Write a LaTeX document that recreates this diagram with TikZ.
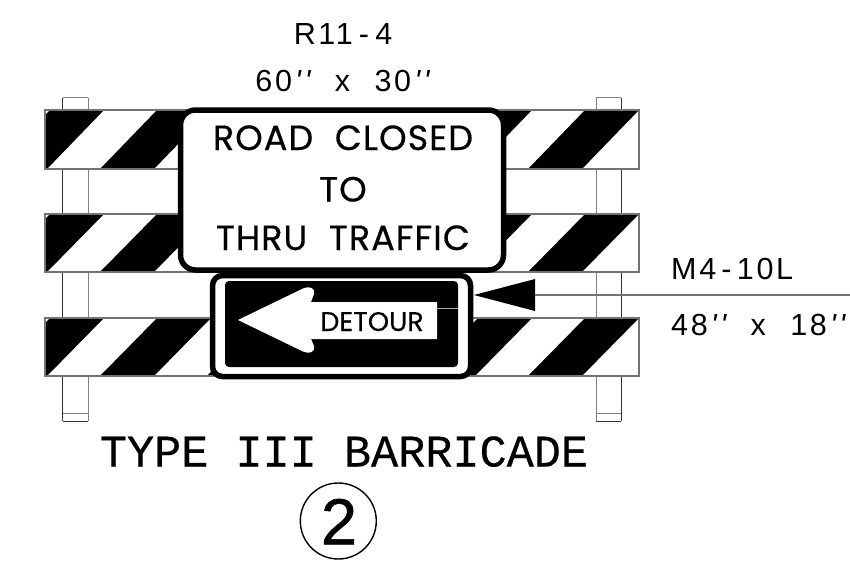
\documentclass[tikz,border=0pt]{standalone}
\usepackage{fontspec}
\setmainfont{Liberation Sans}
\newfontfamily\signfont[FakeBold=0.5,LetterSpace=3]{Poppins}
\newfontfamily\detfont[FakeBold=0.35]{Poppins}
\newfontfamily\cadfont[FakeBold=0.35]{Liberation Mono}
\newfontfamily\lblfont[LetterSpace=9]{Liberation Sans}
\newfontfamily\digitfont[FakeBold=0.8]{Liberation Sans}
\newcommand{\prm}{\hspace{.1em}{\itshape\char"27\hspace{.12em}\char"27}}
\begin{document}
\begin{tikzpicture}[x=1pt,y=-1pt,
  barline/.style={draw=black!55,line width=1.2pt},
  postdark/.style={draw=black!80,line width=1pt},
  postlight/.style={draw=black!50,line width=1pt},
  stripe/.style={fill=black,draw=none},
  labeltext/.style={font=\lblfont\fontsize{30.5}{30.5}\selectfont,anchor=base,inner sep=0pt},
  signtext/.style={font=\signfont\fontsize{35}{35}\selectfont,anchor=base,inner sep=0pt}]
\useasboundingbox (0,0) rectangle (850,573);
\fill[white] (0,0) rectangle (850,573);
% posts
\foreach \xa/\xb/\ca/\cb in {62.5/88/postdark/postlight,596/621/postlight/postdark}{
  \draw[\ca] (\xa,97.5)--(\xa,421);
  \draw[\cb] (\xb,97.5)--(\xb,421);
  \draw[postlight] (\xa,97.5)--(\xb,97.5);
  \draw[postdark] (\xa,421)--(\xb,421);
  \draw[postlight] (\xa,413.5)--(\xb,413.5);
}
% boards
\foreach \t/\b in {110/169,214/272,318/376}{
  \fill[white] (45,\t) rectangle (639,\b);
  \begin{scope}
    \clip (45,\t) rectangle (639,\b);
    \foreach \s in {-7,100,207,314,421,528}{
      \fill[stripe] (\s,\b)--(\s+54,\b)--(\s+111,\t)--(\s+57,\t)--cycle;
    }
  \end{scope}
  \draw[barline] (45,\t) rectangle (639,\b);
}
% M4-10L sign
\node[draw=black,fill=white,line width=5.5pt,rounded corners=10pt,minimum width=258pt,minimum height=101pt,inner sep=0pt] (det) at (341.5,326) {};
\node[fill=black,rounded corners=4pt,minimum width=233pt,minimum height=86pt,inner sep=0pt] (plate) at (341.5,324) {};
\fill[white]
  (238,320)--(303,288.5) .. controls (309,285.5) and (316,288) .. (314,294)--(311,302)--(437,302)--(437,339)--(311,339)--(314,346) .. controls (316,352) and (309,354.5) .. (303,351.5)--cycle;
\node[font=\detfont\fontsize{27}{27}\selectfont,anchor=base,inner sep=0pt] (dt) at (372,331) {DETOUR};
\draw[black!35,line width=.8pt] (437,308)--(458,308);
% R11-4 sign
\node[draw=black,fill=white,line width=5.5pt,rounded corners=15pt,minimum width=323pt,minimum height=160pt,inner sep=0pt] (sign) at (342,190) {};
\node[signtext] (t1) at (343,150) {ROAD\hspace{0.62em}CLOSED};
\node[signtext] (t2) at (343,201.5) {TO};
\node[signtext] (t3) at (343,250) {THRU\hspace{0.62em}TRAFFIC};
% leader
\coordinate (lead) at (850,295);
\fill[black] (474,295)--(535,279)--(535,311)--cycle;
\coordinate (tip) at (535,295);
\draw[black!55,line width=1.2pt] (tip)--(lead);
% labels
\node[labeltext] (r1) at (343,44) {R11\hspace{.2em}-\hspace{.2em}4};
\node[labeltext] (r2) at (342.5,91) {60\prm\hspace{.8em}x\hspace{.8em}30\prm};
\node[labeltext,anchor=base west] (m1) at (671,279) {M4\hspace{.17em}-\hspace{.17em}10L};
\node[labeltext,anchor=base west] (m2) at (671,335) {48\prm\hspace{.8em}x\hspace{.8em}18\prm};
\node[font=\cadfont\fontsize{45.2}{45.2}\selectfont,anchor=base,inner sep=0pt] (title) at (344,466.5) {TYPE III BARRICADE};
\node[circle,draw=black,line width=1.4pt,minimum size=76pt,inner sep=0pt] (num) at (338.3,521) {};
\node[font=\digitfont\fontsize{65}{65}\selectfont,anchor=base,inner sep=0pt] (numt) at (339,544.3) {2};
\end{tikzpicture}
\end{document}
